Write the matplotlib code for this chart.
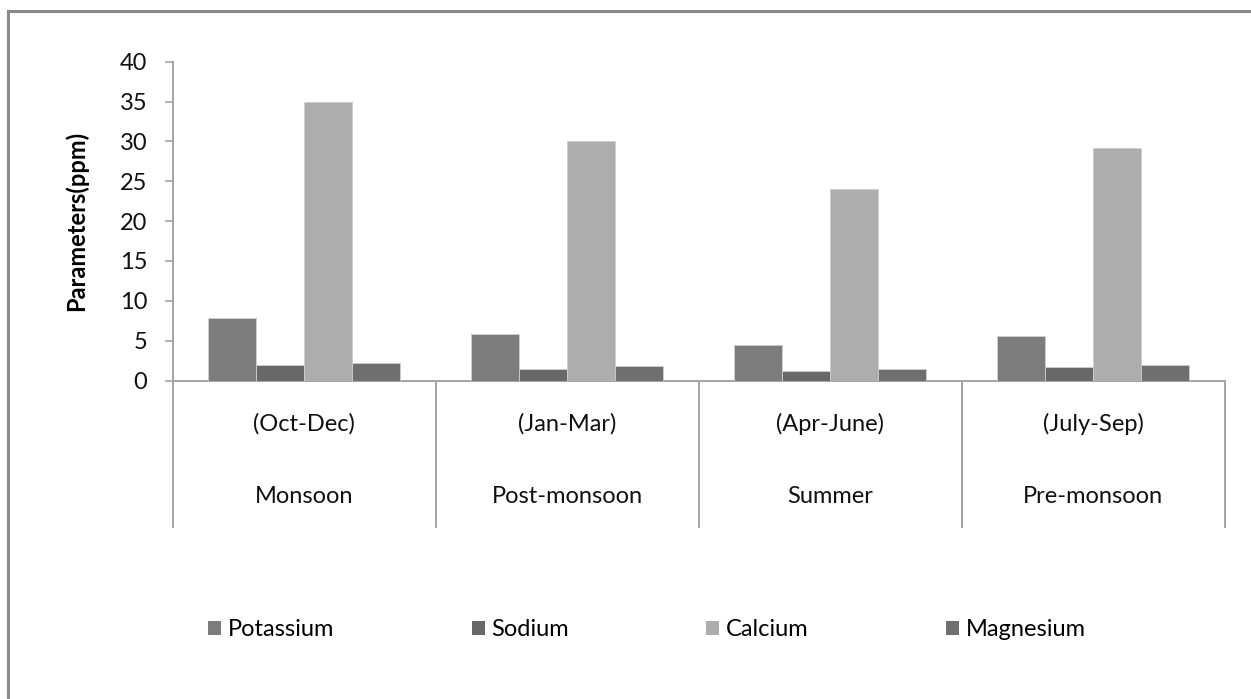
import matplotlib
matplotlib.use("Agg")
import matplotlib.pyplot as plt
from matplotlib.patches import Patch
from matplotlib.lines import Line2D
import numpy as np

plt.rcParams['font.family'] = ['Lato', 'DejaVu Sans']

seasons = ["Monsoon", "Post-monsoon", "Summer", "Pre-monsoon"]
months = ["(Oct-Dec)", "(Jan-Mar)", "(Apr-June)", "(July-Sep)"]
series_names = ["Potassium", "Sodium", "Calcium", "Magnesium"]
potassium = [7.8, 5.8, 4.5, 5.6]
sodium = [1.9, 1.5, 1.15, 1.65]
calcium = [35.0, 30.0, 24.0, 29.2]
magnesium = [2.2, 1.8, 1.5, 2.0]
colors = ["#7c7c7c", "#686868", "#adadad", "#6f6f6f"]

W, H = 1251, 699
fig = plt.figure(figsize=(W / 100, H / 100), dpi=100)
fig.patch.set_facecolor("white")

ax_l, ax_r, ax_t, ax_b = 172.5, 1224.5, 61.7, 380.5
ax = fig.add_axes([ax_l / W, 1 - ax_b / H, (ax_r - ax_l) / W, (ax_b - ax_t) / H])

fs = 17
axis_col = "#a3a3a3"
n = len(seasons)
x = np.arange(n) + 0.5
bw = 0.1825
values = [potassium, sodium, calcium, magnesium]
for k, (vals, col, name) in enumerate(zip(values, colors, series_names)):
    ax.bar(x + (k - 1.5) * bw, vals, width=bw, color=col, edgecolor="#cfcfcf",
           linewidth=0.6, label=name, zorder=3)

ax.set_xlim(0, n)
ax.set_ylim(0, 40)
ax.set_yticks(np.arange(0, 41, 5))
ax.tick_params(axis="y", direction="out", length=5.5, width=1.2, color=axis_col,
               labelsize=fs, pad=12.5, labelcolor="#111111")
ax.set_xticks([])
for s in ["top", "right"]:
    ax.spines[s].set_visible(False)
for s in ["left", "bottom"]:
    ax.spines[s].set_color(axis_col)
    ax.spines[s].set_linewidth(1.4)

aw = ax_r - ax_l
ax.set_ylabel("Parameters(ppm)", fontsize=fs, fontweight="bold")
ax.yaxis.set_label_coords((88 - ax_l) / aw, 0.5)

# multi-level category axis: separators and two label rows
ah = ax_b - ax_t
sep_bottom = -(527 - ax_b) / ah
for b in range(n + 1):
    ax.add_line(Line2D([b, b], [0, sep_bottom], color=axis_col, lw=1.4,
                       clip_on=False, transform=ax.get_xaxis_transform()))
row1 = -(424 - ax_b) / ah
row2 = -(496 - ax_b) / ah
for i in range(n):
    ax.text(x[i], row1, months[i], transform=ax.get_xaxis_transform(),
            ha="center", va="center", fontsize=fs, color="#111111")
    ax.text(x[i], row2, seasons[i], transform=ax.get_xaxis_transform(),
            ha="center", va="center", fontsize=fs, color="#111111")

handles = [Patch(facecolor=c, edgecolor="none") for c in colors]
fig.legend(handles, series_names, loc="center", bbox_to_anchor=(647 / W, 1 - 630 / H),
           ncol=4, frameon=False, fontsize=fs, handlelength=0.55, handleheight=0.55,
           handletextpad=0.3, columnspacing=5.8)

# outer chart frame (left and top edges)
fig.add_artist(Line2D([8 / W, 8 / W], [0, 1 - 10.5 / H], color="#8a8a8a", lw=2.2,
                      transform=fig.transFigure))
fig.add_artist(Line2D([8 / W, 1], [1 - 10.5 / H, 1 - 10.5 / H], color="#8a8a8a", lw=2.2,
                      transform=fig.transFigure))

fig.savefig("out.png", dpi=100, facecolor="white")
